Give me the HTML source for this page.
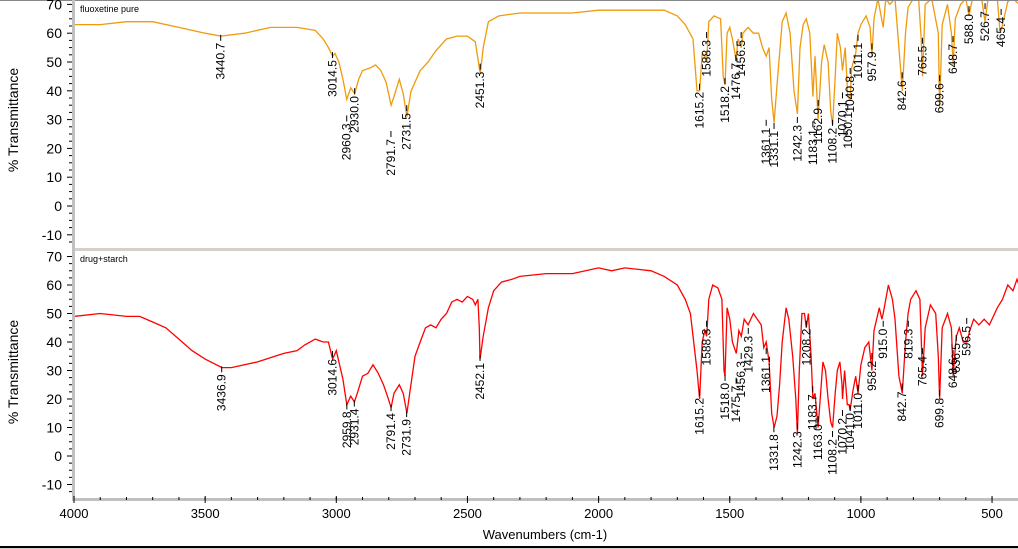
<!DOCTYPE html>
<html><head><meta charset="utf-8"><style>
html,body{margin:0;padding:0;background:#fff;}
svg{display:block;font-family:"Liberation Sans",sans-serif;}
</style></head><body>
<svg id="chart" width="1018" height="549" viewBox="0 0 1018 549" xmlns="http://www.w3.org/2000/svg">
<rect x="0" y="0" width="1018" height="549" fill="#fff"/>
<line x1="0" y1="0.5" x2="1018" y2="0.5" stroke="#888" stroke-width="1"/>
<rect x="75" y="248" width="943" height="3" fill="#d4d0c8"/>
<rect x="72" y="0" width="3" height="501" fill="#c0c0c0"/>
<rect x="72" y="498" width="946" height="3" fill="#c0c0c0"/>
<rect x="0" y="546" width="1018" height="2" fill="#000"/>
<rect x="0" y="548" width="1018" height="1" fill="#d4d0c8"/>
<text x="80" y="12" font-size="9">fluoxetine pure</text>
<text x="80" y="262" font-size="9">drug+starch</text>
<text transform="translate(18,120) rotate(-90)" text-anchor="middle" font-size="14">% Transmittance</text>
<text transform="translate(18,372) rotate(-90)" text-anchor="middle" font-size="14">% Transmittance</text>
<text x="545" y="539" text-anchor="middle" font-size="13">Wavenumbers (cm-1)</text>
<g id="axes"></g>
<defs>
<clipPath id="clipTop"><rect x="75" y="1" width="943" height="247"/></clipPath>
<clipPath id="clipBot"><rect x="75" y="251" width="943" height="247"/></clipPath>
</defs>
<g id="plots"></g>
</svg>
<script>
const xTicks = [4000,3500,3000,2500,2000,1500,1000,500];
const yTicks = [70,60,50,40,30,20,10,0,-10];

const topWn = [4000,3900,3800,3700,3600,3500,3440,3350,3250,3150,3080,3050,3030,3014,3005,2990,2975,2960,2945,2930,2915,2900,2870,2850,2830,2810,2791,2780,2760,2745,2731,2715,2700,2680,2650,2620,2580,2540,2500,2470,2455,2451,2440,2420,2380,2300,2200,2100,2000,1900,1800,1750,1700,1670,1640,1625,1615,1605,1595,1588,1580,1560,1535,1525,1518,1510,1500,1490,1476,1468,1456,1450,1430,1410,1390,1375,1361,1350,1340,1331,1320,1300,1285,1270,1255,1242,1232,1220,1208,1195,1183,1175,1163,1150,1140,1125,1115,1108,1098,1090,1078,1070,1060,1050,1041,1035,1020,1011,1000,980,965,958,950,935,915,905,890,870,855,842,830,820,800,780,770,765,755,730,705,700,690,670,655,648,640,620,600,588,575,540,527,515,480,470,465,440,420,397];
const topT = [63,63,64,64,62,60,59,60,62,62,61,58,55,52,53,50,44,37,41,39,44,47,48,49,47,43,35,38,44,39,31,40,43,47,50,54,58,59,59,57,48,46,55,64,66,67,67,67,68,68,68,68,66,63,58,40,40,53,52,50,64,66,65,45,42,60,62,58,51,58,55,60,62,60,60,55,52,55,37,29,42,64,67,60,40,32,55,63,65,60,38,52,30,50,56,50,33,28,45,60,55,47,55,38,37,48,53,60,63,66,62,52,65,72,62,72,70,72,55,40,60,69,72,72,58,45,70,72,60,34,63,70,60,49,65,70,72,66,72,72,64,72,72,61,61,71,72,70];

const botWn = [4000,3900,3800,3750,3700,3650,3600,3550,3500,3436,3400,3300,3200,3150,3120,3080,3050,3030,3014,3000,2990,2975,2960,2945,2931,2920,2900,2880,2860,2840,2820,2805,2791,2780,2760,2745,2731,2720,2700,2680,2660,2640,2620,2600,2580,2560,2540,2520,2500,2480,2470,2460,2455,2452,2440,2420,2400,2370,2330,2300,2200,2100,2000,1950,1900,1800,1750,1700,1670,1650,1625,1615,1605,1595,1588,1580,1565,1545,1530,1522,1518,1510,1500,1490,1475,1465,1456,1445,1430,1410,1395,1380,1370,1361,1350,1340,1331,1320,1310,1300,1285,1275,1260,1248,1242,1235,1225,1215,1208,1200,1190,1183,1175,1163,1155,1145,1135,1125,1115,1108,1098,1090,1080,1072,1070,1062,1052,1045,1041,1030,1020,1011,1000,985,970,958,950,930,920,915,905,895,880,870,855,842,830,820,810,790,775,765,755,735,715,705,700,690,670,655,648,640,636,625,610,596,585,570,550,530,510,480,460,440,420,405,397];
const botT = [49,50,49,49,47,45,41,37,34,31,31,33,36,37,39,41,40,40,34,37,33,27,18,21,19,22,28,29,32,29,25,21,17,22,25,22,15,22,35,40,45,46,45,48,50,54,55,54,56,55,53,55,45,34,42,52,58,61,62,63,64,64,66,65,66,65,63,60,55,50,30,20,40,44,42,55,60,59,55,30,28,52,48,40,36,44,42,48,46,50,48,46,38,40,33,15,10,14,25,40,52,48,35,20,8,30,50,50,45,50,35,20,22,10,20,33,30,20,12,10,22,30,33,25,20,30,18,18,16,23,28,22,32,38,40,30,44,52,48,50,55,60,55,48,28,22,40,50,55,58,55,28,45,53,50,35,20,45,50,45,28,38,42,45,40,40,44,48,46,48,46,52,55,60,58,62,60];

const topLabelWn = [3440.7,3014.5,2960.3,2930.0,2791.7,2731.5,2451.3,1615.2,1588.3,1518.2,1476.7,1456.5,1361.1,1331.1,1242.3,1183.1,1162.9,1108.2,1070.1,1050.1,1040.8,1011.1,957.9,842.6,765.5,699.6,648.7,588.0,526.7,465.4];
const topLabelT = [57,51,29,38.5,23.6,32.6,47,40,58,42,50,58,27.5,26.4,28.5,27,34.4,27.5,37,33,45.5,57,54,44,56,43,56.6,67,68,66];
const botLabelWn = [3436.9,3014.6,2959.8,2931.4,2791.4,2731.9,2452.1,1615.2,1588.3,1518.0,1475.7,1456.3,1429.3,1361.1,1331.8,1242.3,1208.2,1183.7,1163.0,1108.2,1070.2,1041.0,1011.0,958.2,915.0,842.7,819.3,765.4,699.8,648.6,636.5,596.5];
const botLabelT = [29,34.4,16,17,15.4,13.3,33,20.7,45,26,25,33.7,42.5,35.4,8,9,45,22,11.5,6.3,13.7,15.4,22.5,33.7,45,23,45,35.4,20.7,34.7,40,46];

const NS = "http://www.w3.org/2000/svg";
function xPos(w){ return 74 + (4000 - w) * 0.2623; }
function yTop(t){ return 206 - t * 2.88; }
function yBot(t){ return 456 - t * 2.85; }

const axes = document.getElementById('axes');
const plots = document.getElementById('plots');

function mk(tag, attrs, parent){
  const e = document.createElementNS(NS, tag);
  for (const k in attrs) e.setAttribute(k, attrs[k]);
  parent.appendChild(e);
  return e;
}

[[yTop,'top'],[yBot,'bottom']].forEach(([fy,name]) => {
  yTicks.forEach(v => {
    const y = fy(v);
    const t = mk('text', {x: 62, y: y + 5, 'text-anchor': 'end', 'font-size': 14}, axes);
    t.textContent = v;
    
    
    mk('line', {x1: 67, x2: 72, y1: y, y2: y, stroke: '#000'}, axes);
    for (let k = 1; k < 4; k++) {
      const ym = fy(v - k * 2.5);
      if (ym < (name === 'top' ? 248 : 498)) mk('line', {x1: 69, x2: 72, y1: ym, y2: ym, stroke: '#000'}, axes);
    }
  });
});
xTicks.forEach(v => {
  const x = xPos(v);
  const t = mk('text', {x: x, y: 518, 'text-anchor': 'middle', 'font-size': 13}, axes);
  t.textContent = v;
  
  
  mk('line', {x1: x, x2: x, y1: 496, y2: 503, stroke: '#000'}, axes);
});
for (let w = 3900; w > 400; w -= 100) {
  const x = xPos(w);
  mk('line', {x1: x, x2: x, y1: 497, y2: 500, stroke: '#000'}, axes);
}

function drawSeries(wn, tv, fy, color, clip, name){
  let d = '';
  for (let i = 0; i < wn.length; i++) {
    d += (i ? 'L' : 'M') + xPos(wn[i]).toFixed(1) + ',' + fy(tv[i]).toFixed(1);
  }
  const p = mk('path', {d: d, fill: 'none', stroke: color, 'stroke-width': 1.3, 'clip-path': 'url(#' + clip + ')'}, plots);
  
  
}
drawSeries(topWn, topT, yTop, '#f09a0c', 'clipTop', 'fluoxetine-spectrum');
drawSeries(botWn, botT, yBot, '#ff0000', 'clipBot', 'drug-starch-spectrum');

function drawLabels(wn, tv, fy, name){
  for (let i = 0; i < wn.length; i++) {
    const x = xPos(wn[i]);
    const y = fy(tv[i]);
    mk('line', {x1: x, x2: x, y1: y - 7, y2: y - 1, stroke: '#000'}, plots);
    const t = mk('text', {x: x + 4, y: y + 1, 'font-size': 12, 'text-anchor': 'end', transform: 'rotate(-90 ' + (x + 4) + ' ' + (y + 1) + ')'}, plots);
    t.textContent = wn[i].toFixed(1);
    
    
  }
}
drawLabels(topLabelWn, topLabelT, yTop, 'peak-label-top');
drawLabels(botLabelWn, botLabelT, yBot, 'peak-label-bottom');
</script>
</body></html>
